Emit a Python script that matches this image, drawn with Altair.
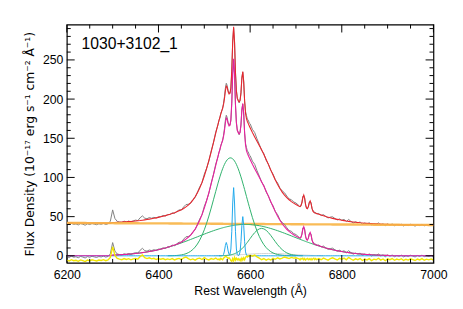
import altair as alt
import pandas as pd

LABEL = "1030+3102_1"
X_TITLE = "Rest Wavelength (Å)"
Y_TITLE = "Flux Density (10⁻¹⁷ erg s⁻¹ cm⁻² Å⁻¹)"

x_major = [6200, 6400, 6600, 6800, 7000]
x_minor = [6250, 6300, 6350, 6450, 6500, 6550, 6650, 6700, 6750, 6850, 6900, 6950]
y_major = [0, 50, 100, 150, 200, 250]
y_minor = [10, 20, 30, 40, 60, 70, 80, 90, 110, 120, 130, 140, 160, 170, 180, 190,
           210, 220, 230, 240, 260, 270, 280, 290]

# wavelength sampling of the spectrum (Angstrom)
W1 = list(range(6200, 6401, 5))
W2 = list(range(6405, 6531, 5))
W3 = list(range(6532, 6601, 2))
W4 = list(range(6605, 6706, 5))
W5 = list(range(6707, 6746, 2))
W6 = list(range(6750, 7001, 5))
wave = W1 + W2 + W3 + W4 + W5 + W6

# power-law continuum (orange)
C1 = [42.0, 42.0, 42.0, 41.9, 41.9, 41.9, 41.9, 41.9, 41.9, 41.8, 41.8, 41.8, 41.8, 41.8,
      41.8, 41.7, 41.7, 41.7, 41.7, 41.7, 41.7, 41.6, 41.6, 41.6, 41.6, 41.6, 41.5, 41.5,
      41.5, 41.5, 41.5, 41.5, 41.4, 41.4, 41.4, 41.4, 41.4, 41.4, 41.3, 41.3, 41.3]
C2 = [41.3, 41.3, 41.3, 41.3, 41.2, 41.2, 41.2, 41.2, 41.2, 41.2, 41.1, 41.1, 41.1, 41.1,
      41.1, 41.1, 41.0, 41.0, 41.0, 41.0, 41.0, 41.0, 40.9, 40.9, 40.9, 40.9]
C3 = [40.9, 40.9, 40.9, 40.9, 40.9, 40.8, 40.8, 40.8, 40.8, 40.8, 40.8, 40.8, 40.8, 40.8,
      40.8, 40.8, 40.8, 40.8, 40.8, 40.8, 40.7, 40.7, 40.7, 40.7, 40.7, 40.7, 40.7, 40.7,
      40.7, 40.7, 40.7, 40.7, 40.7, 40.7, 40.7]
C4 = [40.6, 40.6, 40.6, 40.6, 40.6, 40.6, 40.5, 40.5, 40.5, 40.5, 40.5, 40.4, 40.4, 40.4,
      40.4, 40.4, 40.4, 40.3, 40.3, 40.3, 40.3]
C5 = [40.3, 40.3, 40.3, 40.3, 40.3, 40.3, 40.2, 40.2, 40.2, 40.2, 40.2, 40.2, 40.2, 40.2,
      40.2, 40.2, 40.2, 40.2, 40.2, 40.2]
C6 = [40.1, 40.1, 40.1, 40.1, 40.1, 40.1, 40.0, 40.0, 40.0, 40.0, 40.0, 40.0, 39.9, 39.9,
      39.9, 39.9, 39.9, 39.9, 39.8, 39.8, 39.8, 39.8, 39.8, 39.8, 39.7, 39.7, 39.7, 39.7,
      39.7, 39.7, 39.6, 39.6, 39.6, 39.6, 39.6, 39.6, 39.5, 39.5, 39.5, 39.5, 39.5, 39.5,
      39.4, 39.4, 39.4, 39.4, 39.4, 39.4, 39.3, 39.3, 39.3]
continuum = C1 + C2 + C3 + C4 + C5 + C6

# data minus model (residual)
R1 = [-1.0, -2.2, -0.5, -1.8, -1.2, -2.5, -0.8, -1.6, -2.8, -1.0, -1.9, -0.6, -1.4, -2.1,
      -0.9, -1.5, -0.4, -1.7, -0.8, 2.5, 16.0, 5.0, 1.2, 0.3, -0.5, 1.0, -0.2, 0.8, -0.6,
      0.5, 1.1, 0.2, 3.5, 5.5, 2.2, 1.0, 2.0, 0.6, 1.3, -0.2, 0.8]
R2 = [0.2, 1.0, -0.5, 0.6, -0.3, 0.9, -0.8, 0.4, 1.2, -0.4, 2.0, 3.0, 1.0, -0.6, 0.5, -1.0,
      0.8, 1.5, -0.2, 2.2, 0.4, -0.8, 1.0, 0.0, 1.6, -0.5]
R3 = [0.5, -0.8, 1.2, 0.3, -0.6, 1.5, 2.5, 3.5, 3.5, 2.5, 1.0, 2.0, 0.5, -1.5, -2.5, 1.0,
      -2.0, 2.5, -1.0, 1.5, -0.5, 0.8, -1.2, 0.5, -2.0, 1.5, -1.0, 2.0, -0.5, 2.5, 4.0, 3.0,
      4.5, 3.5, 5.0]
R4 = [4.0, 5.5, 3.0, 1.5, -0.5, 1.0, -1.0, 0.5, -0.8, 1.2, 0.0, 2.0, 0.5, 1.5, 3.0, 2.0,
      1.0, 2.5, 1.5, 2.0, 1.0]
R5 = [0.5, -0.8, 1.0, 0.2, 1.5, -0.5, 1.0, -1.0, 0.5, 1.2, -0.4, 0.8, -0.5, 1.0, -0.6, 0.7,
      1.5, -0.3, 0.9, -0.5]
R6 = [1.0, -0.5, 1.5, 0.2, -1.0, 0.8, 2.0, 0.5, -0.8, 1.2, 0.0, 1.5, -0.6, 2.5, 0.4, -1.2,
      0.6, -0.4, 1.0, -1.5, 0.3, -0.8, 0.9, -1.6, 0.2, -0.5, 1.4, -1.0, 0.5, -1.8, 0.6, -0.4,
      1.0, -1.2, 0.3, -0.6, 0.8, -1.4, 0.1, -0.9, 0.7, -0.3, -1.5, 0.4, -0.8, 0.9, -1.1, 0.2,
      -0.6, 0.5, -1.0]
residual = R1 + R2 + R3 + R4 + R5 + R6
RESID_OFFSET = -4.5

# broad H-alpha components (green)
ga_wave = [w for w in wave if 6420 <= w <= 6700]
ga_vals = [0.06, 0.10, 0.17, 0.29, 0.47, 0.75, 1.17, 1.79, 2.69, 3.95, 5.69, 8.04, 11.11,
           15.06, 20.01, 26.03, 33.19, 41.46, 50.74, 60.84, 71.49, 82.30, 92.83,
           96.85, 100.72, 104.41, 107.88, 111.09, 114.03, 116.67, 118.98, 120.94, 122.53,
           123.73, 124.54, 124.95, 124.95, 124.54, 123.73, 122.53, 120.94, 118.98, 116.67,
           114.03, 111.09, 107.88, 104.41, 100.72, 96.85, 92.83, 88.68, 84.45, 80.14,
           75.82, 71.49, 67.19, 62.95, 58.77,
           48.81, 39.72, 31.67, 24.74, 18.94, 14.20, 10.43, 7.51, 5.30, 3.66, 2.48, 1.65,
           1.07, 0.68, 0.43, 0.26, 0.16, 0.09, 0.05, 0.03]
gb_wave = [w for w in wave if 6300 <= w <= 6900]
gb_vals = [0.88, 1.01, 1.14, 1.30, 1.47, 1.66, 1.86, 2.10, 2.35, 2.63, 2.94, 3.27, 3.63,
           4.03, 4.45, 4.92, 5.41, 5.95, 6.52, 7.13, 7.78,
           8.47, 9.20, 9.97, 10.79, 11.64, 12.53, 13.45, 14.42, 15.42, 16.44, 17.50, 18.59,
           19.69, 20.82, 21.96, 23.11, 24.26, 25.42, 26.56, 27.70, 28.82, 29.92, 30.99,
           32.03, 33.03, 33.97,
           34.34, 34.70, 35.05, 35.38, 35.71, 36.03, 36.34, 36.64, 36.92, 37.20, 37.46,
           37.72, 37.96, 38.18, 38.40, 38.60, 38.79, 38.97, 39.13, 39.28, 39.42, 39.54,
           39.65, 39.74, 39.82, 39.88, 39.93, 39.97, 39.99, 40.00, 39.99, 39.97, 39.93,
           39.88, 39.82,
           39.59, 39.28, 38.88, 38.40, 37.84, 37.20, 36.49, 35.71, 34.87, 33.97, 33.03,
           32.03, 30.99, 29.92, 28.82, 27.70, 26.56, 25.42, 24.26, 23.11, 21.96,
           21.50, 21.05, 20.59, 20.14, 19.69, 19.25, 18.81, 18.37, 17.93, 17.50, 17.08,
           16.65, 16.24, 15.82, 15.42, 15.01, 14.62, 14.22, 13.84, 13.45,
           12.53, 11.64, 10.79, 9.97, 9.20, 8.47, 7.78, 7.13, 6.52, 5.95, 5.41, 4.92, 4.45,
           4.03, 3.63, 3.27, 2.94, 2.63, 2.35, 2.10, 1.86, 1.66, 1.47, 1.30, 1.14, 1.01,
           0.88, 0.77, 0.68, 0.59, 0.51]
gc_wave = [w for w in wave if 6532 <= w <= 6715]
gc_vals = [0.06, 0.08, 0.10, 0.13, 0.17, 0.21, 0.27, 0.35, 0.44, 0.55, 0.68, 0.84, 1.03,
           1.27, 1.54, 1.86, 2.23, 2.67, 3.17, 3.74, 4.38, 5.11, 5.93, 6.83, 7.83, 8.92,
           10.10, 11.36, 12.72, 14.14, 15.64, 17.19, 18.79, 20.41, 22.04,
           26.04, 29.63, 32.50, 34.36, 35.00, 34.36, 32.50, 29.63, 26.04, 22.04, 17.99, 14.14,
           10.72, 7.83, 5.51, 3.74, 2.44, 1.54, 0.93, 0.55, 0.31,
           0.24, 0.19, 0.15, 0.11, 0.09]

# narrow [NII]6548, H-alpha, [NII]6583 (blue)
nl_wave = [w for w in wave if 6540 <= w <= 6594]
nl_vals = [0.3, 1.7, 6.1, 13.2, 17.0, 13.2, 6.1, 1.9, 1.8, 8.7, 31.3, 67.4, 87.0, 67.4,
           31.3, 8.7, 1.5, 0.2, 0.9, 5.0, 18.0, 38.8, 50.0, 38.8, 18.0, 5.0, 0.9, 0.1]

# [SII] 6716/6731 (part of the model)
sii_wave = [w for w in wave if 6707 <= w <= 6741]
sii_vals = [0.0, 0.3, 1.7, 6.1, 13.2, 17.0, 13.2, 6.1, 1.9, 1.6, 4.7, 10.1, 13.0, 10.1,
            4.7, 1.3, 0.2, 0.0]

# weak extra component (light grey)
fa_wave = [w for w in wave if 6520 <= w <= 6760]
fa_vals = [0.17, 0.21, 0.27,
           0.29, 0.32, 0.35, 0.37, 0.41, 0.44, 0.47, 0.51, 0.55, 0.59, 0.64, 0.68, 0.73,
           0.78, 0.83, 0.89, 0.95, 1.00, 1.06, 1.13, 1.19, 1.26, 1.32, 1.39, 1.46, 1.53,
           1.60, 1.67, 1.75, 1.82, 1.89, 1.96, 2.04, 2.11, 2.18,
           2.35, 2.51, 2.65, 2.77, 2.87, 2.94, 2.99, 3.00, 2.99, 2.94, 2.87, 2.77, 2.65,
           2.51, 2.35, 2.18, 2.00, 1.82, 1.64, 1.46, 1.29,
           1.22, 1.16, 1.09, 1.03, 0.97, 0.92, 0.86, 0.81, 0.76, 0.71, 0.66, 0.62, 0.57,
           0.53, 0.49, 0.46, 0.42, 0.39, 0.36, 0.33,
           0.27, 0.21, 0.17]

for a, b in [(wave, continuum), (wave, residual), (ga_wave, ga_vals), (gb_wave, gb_vals),
             (gc_wave, gc_vals), (nl_wave, nl_vals), (sii_wave, sii_vals),
             (fa_wave, fa_vals)]:
    assert len(a) == len(b), (len(a), len(b))

comps = [dict(zip(ga_wave, ga_vals)), dict(zip(gb_wave, gb_vals)),
         dict(zip(gc_wave, gc_vals)), dict(zip(nl_wave, nl_vals)),
         dict(zip(sii_wave, sii_vals)), dict(zip(fa_wave, fa_vals))]
nl = comps[3]

model_lines = [sum(c.get(w, 0.0) for c in comps) for w in wave]
model_total = [m + c for m, c in zip(model_lines, continuum)]
data_lines = [m + r for m, r in zip(model_lines, residual)]
data_total = [d + c for d, c in zip(data_lines, continuum)]
resid_plot = [r + RESID_OFFSET for r in residual]
narrow_full = [nl.get(w, 0.0) for w in wave]

W, H = 374, 243
FONT = "Liberation Sans"

xscale = alt.Scale(domain=[6200, 7000], nice=False, zero=False)
yscale = alt.Scale(domain=[-9, 295], nice=False, zero=False)
xaxis = alt.Axis(values=x_major, format="d", title=X_TITLE, ticks=False, domain=False,
                 grid=False, labelFlush=False, labelFont=FONT, labelFontSize=12.5,
                 labelColor="black", labelPadding=6, titleFont=FONT, titleFontSize=12.5,
                 titleFontWeight="normal", titleColor="black", titleX=W / 2, titleY=28,
                 titleBaseline="middle", titleAlign="center")
yaxis = alt.Axis(values=y_major, format="d", title=Y_TITLE, ticks=False, domain=False,
                 grid=False, labelFont=FONT, labelFontSize=12.5, labelColor="black",
                 labelPadding=4, titleFont="DejaVu Sans", titleFontSize=12.5,
                 titleFontWeight="normal", titleColor="black", titleX=-38, titleY=H / 2,
                 titleAngle=270, titleBaseline="middle", titleAlign="center")
X = alt.X("wave:Q", scale=xscale, axis=xaxis)
Y = alt.Y("flux:Q", scale=yscale, axis=yaxis)


def line_layer(wl, vals, color, width=1.0, opacity=1.0):
    df = pd.DataFrame({"wave": wl, "flux": vals})
    return alt.Chart(df).mark_line(color=color, strokeWidth=width, opacity=opacity,
                                   clip=True).encode(x=X, y=Y)


layers = [
    line_layer(wave, data_total, "#808080", 1.0),
    line_layer(wave, model_total, "#e8262e", 1.1),
    line_layer(wave, continuum, "#f8b445", 2.4, 0.9),
    line_layer(wave, data_lines, "#808080", 1.0),
    line_layer(fa_wave, fa_vals, "#d2d2d2", 1.0),
    line_layer(ga_wave, ga_vals, "#2cb06a", 1.0),
    line_layer(gb_wave, gb_vals, "#2cb06a", 1.0),
    line_layer(gc_wave, gc_vals, "#2cb06a", 1.0),
    line_layer(wave, narrow_full, "#1ea8ec", 1.0),
    line_layer(wave, model_lines, "#e81e9e", 1.1),
    line_layer(wave, resid_plot, "#f2e600", 1.4),
]

# inward ticks on all four sides
def xticks(vals, length):
    df = pd.DataFrame({"wave": vals})
    bottom = alt.Chart(df).mark_rule(color="black", strokeWidth=1).encode(
        x=X, y=alt.value(H), y2=alt.value(H - length))
    top = alt.Chart(df).mark_rule(color="black", strokeWidth=1).encode(
        x=X, y=alt.value(0), y2=alt.value(length))
    return [bottom, top]


def yticks(vals, length):
    df = pd.DataFrame({"flux": vals})
    left = alt.Chart(df).mark_rule(color="black", strokeWidth=1).encode(
        y=Y, x=alt.value(0), x2=alt.value(length))
    right = alt.Chart(df).mark_rule(color="black", strokeWidth=1).encode(
        y=Y, x=alt.value(W), x2=alt.value(W - length))
    return [left, right]


layers += xticks(x_major, 8) + xticks(x_minor, 4) + yticks(y_major, 8) + yticks(y_minor, 4)

label = alt.Chart(pd.DataFrame({"t": [LABEL]})).mark_text(
    align="left", baseline="alphabetic", font=FONT, fontSize=16, color="black"
).encode(text="t:N", x=alt.value(15), y=alt.value(25))
layers.append(label)

chart = alt.layer(*layers).properties(
    width=W, height=H,
    padding={"left": 60, "top": 14, "right": 22, "bottom": 40},
    autosize=alt.AutoSizeParams(type="none"),
).configure_view(stroke="black", strokeWidth=1.2)

chart.save("out.html", embed_options={"renderer": "svg", "actions": False})
